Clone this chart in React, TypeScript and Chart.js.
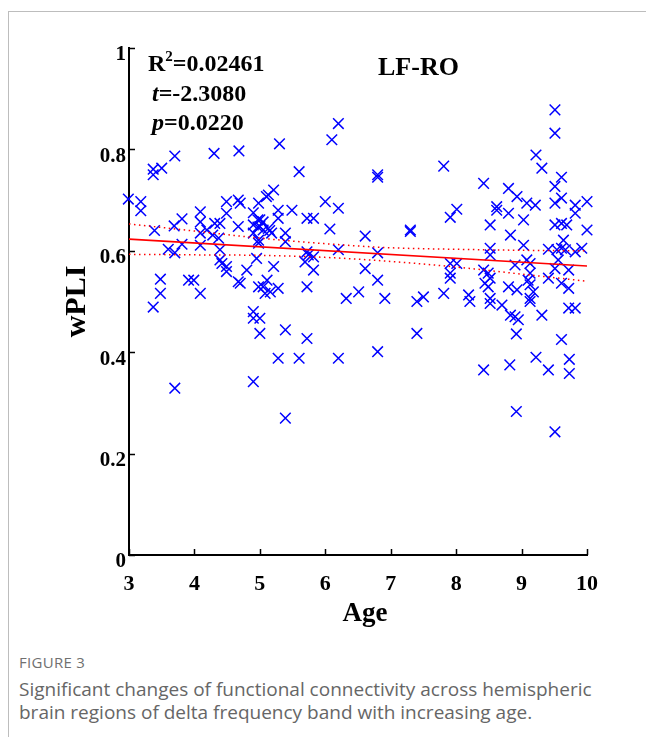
import React, { useEffect, useRef } from "react";
import { Chart, registerables } from "chart.js";

Chart.register(...registerables);

// ---------- data ----------
const xTickValues = [3, 4, 5, 6, 7, 8, 9, 10];
const xTickLabels = ["3", "4", "5", "6", "7", "8", "9", "10"];
const yTickValues = [0, 0.2, 0.4, 0.6, 0.8, 1];
const yTickLabels = ["0", "0.2", "0.4", "0.6", "0.8", "1"];

const ages = [
  2.99, 3.18, 3.18, 3.37, 3.37, 3.5, 3.7, 3.39, 3.69, 3.81, 3.6, 3.7, 3.81, 3.48, 3.48, 3.37, 3.7, 3.91, 3.99, 4.09,
  4.09, 4.09, 4.09, 4.09, 4.19, 4.31, 4.28, 4.39, 4.49, 4.49, 4.67, 4.7, 4.67, 4.37, 4.39, 4.39, 4.42, 4.49, 4.49, 4.8,
  4.67, 4.7, 4.3, 4.68,
  4.9, 4.97, 4.9, 4.97, 4.9, 4.95, 4.98, 5.21, 5.13, 4.98, 5.28, 5.28, 5.49, 5.72, 5.82, 6.0,
  5.0, 5.05, 5.0, 5.05, 5.13, 5.18, 5.15, 5.39, 5.39, 4.98,
  5.21, 5.72, 5.74, 5.82, 5.69, 5.82, 5.11, 5.05, 4.98, 5.16, 5.28, 5.08, 5.72, 6.07,
  4.9, 4.9, 5.0, 5.0, 4.9, 5.1, 5.3,
  5.6, 6.2, 6.1, 6.2, 6.61, 7.3, 7.3, 6.2, 6.8, 6.8, 6.8, 6.61, 6.8, 6.32, 6.51, 6.91, 7.4, 7.5, 5.39, 5.72, 5.28, 5.6,
  6.2, 6.8, 7.4, 5.39,
  7.81, 8.42, 8.8, 8.93, 8.62, 8.62, 8.8, 8.52, 9.03, 8.83, 9.03, 8.52, 8.52, 8.9, 8.42, 8.49, 8.52, 8.44, 8.49, 8.8,
  8.93, 8.19, 8.21, 8.52, 8.52, 8.7, 8.83, 8.9, 8.95, 8.01, 7.91, 7.81, 7.91, 8.01, 7.91, 7.91, 8.42, 8.82, 8.92, 8.92,
  9.51, 9.51, 9.22, 9.31, 9.61, 9.51, 9.61, 9.51, 9.08, 9.21, 9.82, 9.82, 10.0, 9.51, 9.61, 9.69, 10.0, 9.64, 9.41, 9.54,
  9.61, 9.67, 9.82, 9.92, 9.56, 9.08, 9.13, 9.72, 9.51, 9.41, 9.13, 9.1, 9.13, 9.61, 9.72, 9.18, 9.13, 9.13, 9.31, 9.72,
  9.82, 9.22, 9.61, 9.73, 9.73, 9.41, 9.51,
];

const wpli = [
  0.702, 0.697, 0.679, 0.761, 0.75, 0.763, 0.787, 0.64, 0.649, 0.663, 0.603, 0.596, 0.613, 0.544, 0.516, 0.489, 0.329, 0.542, 0.542, 0.516,
  0.677, 0.657, 0.635, 0.611, 0.641, 0.654, 0.631, 0.654, 0.697, 0.674, 0.7, 0.694, 0.648, 0.625, 0.602, 0.582, 0.575, 0.569, 0.559, 0.562,
  0.539, 0.536, 0.792, 0.797,
  0.675, 0.661, 0.651, 0.647, 0.635, 0.585, 0.615, 0.72, 0.71, 0.694, 0.68, 0.664, 0.68, 0.664, 0.664, 0.697,
  0.661, 0.657, 0.648, 0.641, 0.644, 0.635, 0.64, 0.635, 0.618, 0.621,
  0.569, 0.598, 0.592, 0.588, 0.578, 0.562, 0.542, 0.529, 0.529, 0.519, 0.526, 0.516, 0.529, 0.643,
  0.48, 0.467, 0.467, 0.437, 0.342, 0.707, 0.811,
  0.756, 0.851, 0.819, 0.684, 0.629, 0.641, 0.638, 0.602, 0.75, 0.745, 0.596, 0.565, 0.542, 0.506, 0.519, 0.506, 0.5, 0.509, 0.444, 0.427, 0.388, 0.388,
  0.388, 0.401, 0.437, 0.27,
  0.767, 0.733, 0.723, 0.707, 0.687, 0.68, 0.674, 0.651, 0.661, 0.631, 0.611, 0.605, 0.592, 0.572, 0.562, 0.556, 0.546, 0.536, 0.529, 0.529,
  0.523, 0.513, 0.5, 0.506, 0.496, 0.493, 0.473, 0.47, 0.464, 0.682, 0.666, 0.516, 0.575, 0.575, 0.556, 0.546, 0.365, 0.375, 0.436, 0.283,
  0.878, 0.832, 0.789, 0.763, 0.745, 0.727, 0.704, 0.694, 0.694, 0.69, 0.69, 0.674, 0.697, 0.651, 0.654, 0.651, 0.641, 0.621, 0.603, 0.602,
  0.605, 0.602, 0.598, 0.605, 0.582, 0.582, 0.575, 0.562, 0.565, 0.546, 0.556, 0.542, 0.533, 0.536, 0.526, 0.519, 0.506, 0.5, 0.473, 0.487,
  0.487, 0.39, 0.425, 0.386, 0.358, 0.365, 0.243,
];

const fitAges = [3, 10];
const fitValues = [0.623, 0.57];
const ciAges = [3, 4, 5, 6, 7, 8, 9, 10];
const ciUpper = [0.653, 0.639, 0.625, 0.614, 0.606, 0.603, 0.601, 0.6];
const ciLower = [0.593, 0.592, 0.591, 0.587, 0.579, 0.568, 0.554, 0.54];

const statLines = [
  { sym: "R", sup: "2", italic: false, rest: "=0.02461" },
  { sym: "t", sup: "", italic: true, rest: "=-2.3080" },
  { sym: "p", sup: "", italic: true, rest: "=0.0220" },
];
const panelTitle = "LF-RO";
const xTitle = "Age";
const yTitle = "wPLI";

const SERIF = "'Liberation Serif', 'Times New Roman', serif";

export default function App() {
  const canvasRef = useRef<HTMLCanvasElement | null>(null);

  useEffect(() => {
    const canvas = canvasRef.current;
    if (!canvas) return;

    const decor = {
      id: "decor",
      afterDraw(chart: any) {
        const ctx = chart.ctx;
        const { left, bottom } = chart.chartArea;
        const xs = chart.scales.x;
        const ys = chart.scales.y;
        ctx.save();
        ctx.strokeStyle = "#000";
        ctx.lineWidth = 1.5;
        ctx.beginPath();
        yTickValues.forEach((v) => {
          const py = Math.round(ys.getPixelForValue(v)) + 0.5;
          ctx.moveTo(left, py);
          ctx.lineTo(left + 6, py);
        });
        xTickValues.forEach((v) => {
          const px = Math.round(xs.getPixelForValue(v)) + 0.5;
          ctx.moveTo(px, bottom);
          ctx.lineTo(px, bottom - 6);
        });
        ctx.stroke();

        // stats text
        ctx.fillStyle = "#000";
        ctx.textBaseline = "alphabetic";
        ctx.textAlign = "left";
        const baseX = [148, 152, 152];
        const baseY = [71, 101, 130];
        statLines.forEach((ln, i) => {
          let x = baseX[i];
          ctx.font = `${ln.italic ? "italic " : ""}bold 24px ${SERIF}`;
          ctx.fillText(ln.sym, x, baseY[i]);
          x += ctx.measureText(ln.sym).width;
          if (ln.sup) {
            ctx.font = `bold 15px ${SERIF}`;
            ctx.fillText(ln.sup, x, baseY[i] - 10);
            x += ctx.measureText(ln.sup).width;
          }
          ctx.font = `bold 24px ${SERIF}`;
          ctx.fillText(ln.rest, x, baseY[i]);
        });
        ctx.font = `bold 26px ${SERIF}`;
        ctx.fillText(panelTitle, 378, 75);

        // x-axis title
        ctx.font = `bold 27px ${SERIF}`;
        ctx.textAlign = "center";
        ctx.fillText(xTitle, 365, 621);
        ctx.restore();
      },
    };

    const chart = new Chart(canvas, {
      type: "scatter",
      data: {
        datasets: [
          {
            type: "scatter",
            data: ages.map((a, i) => ({ x: a, y: wpli[i] })),
            pointStyle: "crossRot",
            pointRadius: 7.5,
            pointBorderWidth: 1.5,
            borderColor: "#0000ff",
            backgroundColor: "#0000ff",
            clip: false,
            order: 2,
          } as any,
          {
            type: "line",
            data: fitAges.map((a, i) => ({ x: a, y: fitValues[i] })),
            borderColor: "#ff0000",
            borderWidth: 1.6,
            pointRadius: 0,
            fill: false,
            order: 1,
          } as any,
          {
            type: "line",
            data: ciAges.map((a, i) => ({ x: a, y: ciUpper[i] })),
            borderColor: "#ff0000",
            borderWidth: 1.5,
            borderDash: [1.5, 3.5],
            pointRadius: 0,
            cubicInterpolationMode: "monotone",
            fill: false,
            order: 1,
          } as any,
          {
            type: "line",
            data: ciAges.map((a, i) => ({ x: a, y: ciLower[i] })),
            borderColor: "#ff0000",
            borderWidth: 1.5,
            borderDash: [1.5, 3.5],
            pointRadius: 0,
            cubicInterpolationMode: "monotone",
            fill: false,
            order: 1,
          } as any,
        ],
      },
      options: {
        responsive: false,
        animation: false,
        devicePixelRatio: 1,
        layout: { padding: { left: 0, right: 59, top: 48, bottom: 0 } },
        plugins: { legend: { display: false }, tooltip: { enabled: false }, title: { display: false } },
        scales: {
          x: {
            type: "linear",
            min: 3,
            max: 10,
            afterBuildTicks: (s: any) => {
              s.ticks = xTickValues.map((v) => ({ value: v }));
            },
            afterFit: (s: any) => {
              s.height = 85;
            },
            ticks: {
              callback: (_v: any, i: number) => xTickLabels[i],
              font: { family: SERIF, size: 22, weight: "bold" },
              color: "#000",
              padding: 16,
              maxRotation: 0,
              autoSkip: false,
            },
            grid: { display: true, drawOnChartArea: false, drawTicks: false },
            border: { display: true, color: "#000", width: 2 },
            title: { display: false },
          },
          y: {
            type: "linear",
            min: 0,
            max: 1,
            afterBuildTicks: (s: any) => {
              s.ticks = yTickValues.map((v) => ({ value: v }));
            },
            afterFit: (s: any) => {
              s.width = 129;
            },
            ticks: {
              callback: (_v: any, i: number) => yTickLabels[i],
              font: { family: SERIF, size: 21, weight: "bold" },
              color: "#000",
              padding: 3,
              labelOffset: 7,
              autoSkip: false,
            },
            grid: { display: true, drawOnChartArea: false, drawTicks: false },
            border: { display: true, color: "#000", width: 2 },
            title: {
              display: true,
              text: yTitle,
              font: { family: SERIF, size: 30, weight: "bold" },
              color: "#000",
              padding: { top: 59, bottom: 0 },
            },
          },
        },
      },
      plugins: [decor],
    } as any);

    return () => chart.destroy();
  }, []);

  return (
    <div style={{ position: "absolute", left: 0, top: 0, width: 646, height: 737, overflow: "hidden", background: "#fff" }}>
      <div
        style={{
          position: "absolute",
          left: 8,
          top: 11,
          width: 660,
          height: 740,
          borderTop: "1px solid #bdbdbd",
          borderLeft: "1px solid #bdbdbd",
        }}
      />
      <canvas ref={canvasRef} width={646} height={640} style={{ position: "absolute", left: 0, top: 0, width: 646, height: 640 }} />
      <div
        style={{
          position: "absolute",
          left: 19,
          top: 652,
          fontFamily: "'Open Sans', sans-serif",
          fontSize: 15,
          color: "#707070",
          letterSpacing: 0.3,
        }}
      >
        FIGURE 3
      </div>
      <div
        style={{
          position: "absolute",
          left: 19,
          top: 678,
          fontFamily: "'Open Sans', sans-serif",
          fontSize: 19,
          lineHeight: "23px",
          color: "#666666",
          whiteSpace: "nowrap",
        }}
      >
        Significant changes of functional connectivity across hemispheric
        <br />
        brain regions of delta frequency band with increasing age.
      </div>
    </div>
  );
}
